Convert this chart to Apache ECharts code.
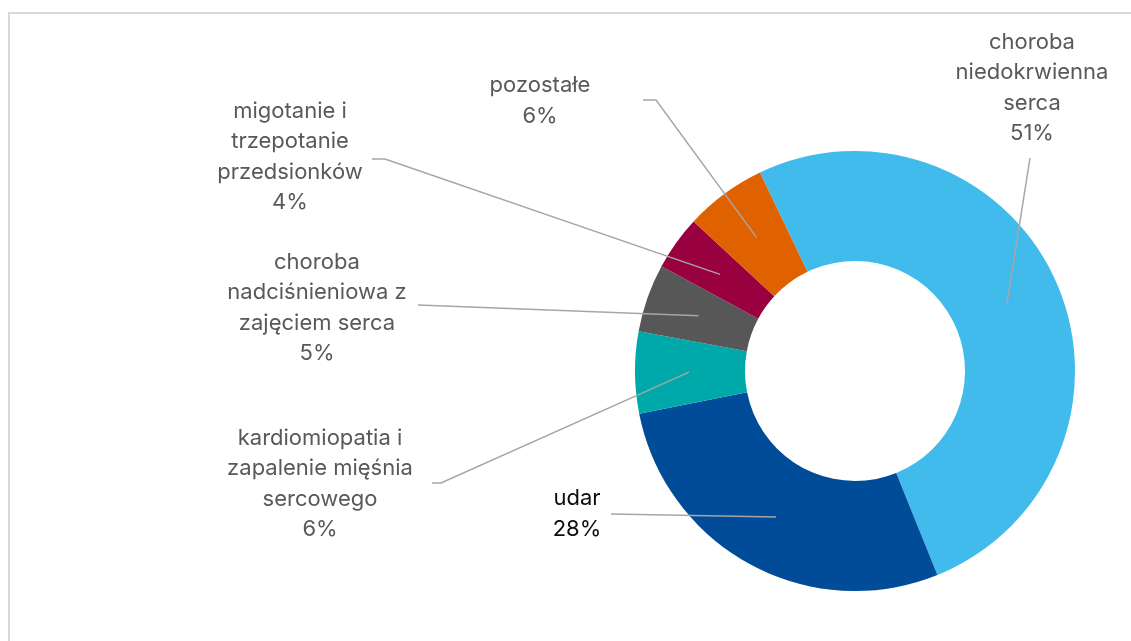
<!DOCTYPE html>
<html>
<head>
<meta charset="utf-8">
<style>
  html, body { margin: 0; padding: 0; background: #fff; }
  #chart { width: 1131px; height: 641px; position: absolute; left: 0; top: 0; }
  #frame { position: absolute; left: 8px; top: 12px; width: 1200px; height: 700px;
           border-left: 2px solid #d9d9d9; border-top: 2px solid #d9d9d9; pointer-events: none; }
</style>
<script src="https://cdn.jsdelivr.net/npm/echarts@6/dist/echarts.min.js"></script>
</head>
<body>
<div id="chart"></div>
<div id="frame"></div>
<script>
// Causes of cardiovascular deaths, share in %
const categories = [
  'choroba\nniedokrwienna\nserca',
  'udar',
  'kardiomiopatia i\nzapalenie mięśnia\nsercowego',
  'choroba\nnadciśnieniowa z\nzajęciem serca',
  'migotanie i\ntrzepotanie\nprzedsionków',
  'pozostałe'
];
const shares = [51, 28, 6, 5, 4, 6];
const colors = ['#41bbec', '#004c99', '#00a9a9', '#575757', '#990040', '#e06100'];
const textColors = ['#595959', '#0d0d0d', '#595959', '#595959', '#595959', '#595959'];

// Ring geometry
const CENTER = [855, 371];
const R_IN = 110, R_OUT = 220;
const START_ANGLE = 115.6;
const LINE_START_R = 166;

// Label placement: text centre, then the guide line's elbow and end
const labelSpots = [
  { at: [1032, 88],  elbow: [1030, 158], end: [1030, 158] },
  { at: [577, 514],  elbow: [611, 514],  end: [611, 514] },
  { at: [320, 484],  elbow: [441, 483],  end: [432, 483] },
  { at: [317, 308],  elbow: [418, 305],  end: [418, 305] },
  { at: [290, 157],  elbow: [385, 159],  end: [372, 159] },
  { at: [540, 101],  elbow: [656, 100],  end: [643, 100] }
];

const total = shares.reduce((a, b) => a + b, 0);
let acc = 0;
const midAngles = shares.map(v => {
  const mid = START_ANGLE - (acc + v / 2) / total * 360;
  acc += v;
  return mid;
});

const pieData = (withStyle) => categories.map((name, i) => ({
  name,
  value: shares[i],
  itemStyle: { color: withStyle ? colors[i] : 'transparent' },
  label: { color: textColors[i] }
}));

const common = {
  type: 'pie',
  center: CENTER,
  radius: [R_IN, R_OUT],
  startAngle: START_ANGLE,
  clockwise: true,
  avoidLabelOverlap: false,
  silent: true,
  emphasis: { disabled: true }
};

const chart = echarts.init(document.getElementById('chart'), null, { renderer: 'canvas' });
chart.setOption({
  animation: false,
  backgroundColor: 'transparent',
  series: [
    // the coloured ring
    Object.assign({}, common, {
      z: 2,
      data: pieData(true),
      label: { show: false },
      labelLine: { show: false }
    }),
    // labels and leader lines drawn over the ring
    Object.assign({}, common, {
      z: 5,
      data: pieData(false),
      label: {
        show: true,
        position: 'outside',
        formatter: p => p.name + '\n' + p.value + '%',
        fontFamily: 'Inter, "Open Sans", sans-serif',
        fontSize: 22,
        lineHeight: 30.5,
        align: 'center'
      },
      labelLine: {
        show: true,
        lineStyle: { color: '#a6a6a6', width: 1.5 }
      },
      labelLayout: params => {
        const i = params.dataIndex;
        const spot = labelSpots[i];
        const a = midAngles[i] * Math.PI / 180;
        const start = [CENTER[0] + LINE_START_R * Math.cos(a), CENTER[1] - LINE_START_R * Math.sin(a)];
        return {
          x: spot.at[0],
          y: spot.at[1],
          align: 'center',
          verticalAlign: 'middle',
          labelLinePoints: [start, spot.elbow, spot.end]
        };
      }
    })
  ]
});
</script>
</body>
</html>
